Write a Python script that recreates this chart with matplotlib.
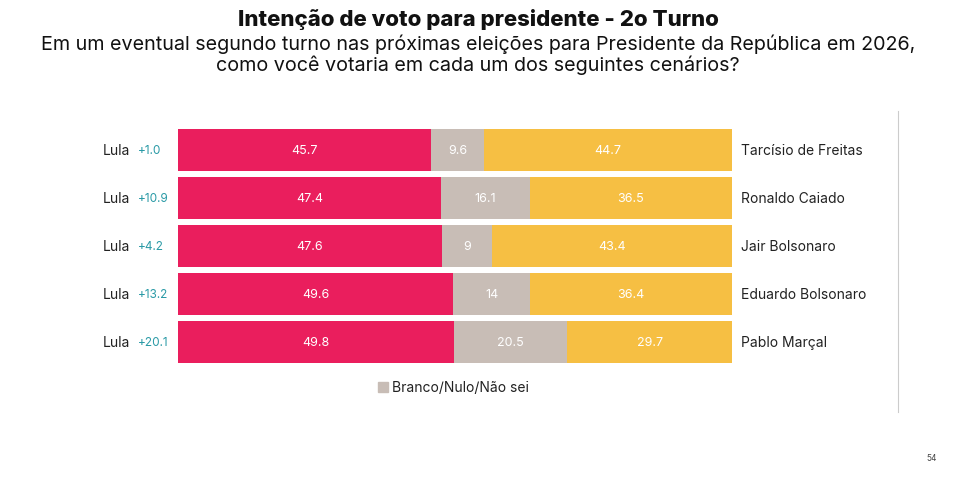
import numpy as np
from matplotlib import pyplot as plt

plt.rcParams['font.family'] = ['Inter', 'DejaVu Sans']

opponents = ["Tarcísio de Freitas", "Ronaldo Caiado", "Jair Bolsonaro",
             "Eduardo Bolsonaro", "Pablo Marçal"]
lula = [45.7, 47.4, 47.6, 49.6, 49.8]
blank = [9.6, 16.1, 9, 14, 20.5]
other = [44.7, 36.5, 43.4, 36.4, 29.7]
diffs = ["+1.0", "+10.9", "+4.2", "+13.2", "+20.1"]

RED = "#EA1E5D"
GREY = "#C8BDB6"
YELLOW = "#F6BF43"
TEAL = "#2A9AA6"
W, H = 957, 481


def fmt(v):
    return f"{v:g}"


fig = plt.figure(figsize=(W / 100, H / 100), dpi=100)
ax = fig.add_axes([178 / W, 1 - 367 / H, 554 / W, 240 / H])

y = np.arange(len(opponents))
lula = np.array(lula)
blank = np.array(blank)
other = np.array(other)
totals = lula + blank + other

ax.barh(y, lula, height=0.89, color=RED)
ax.barh(y, blank, left=lula, height=0.89, color=GREY)
ax.barh(y, other, left=lula + blank, height=0.89, color=YELLOW)

for i in y:
    ax.text(lula[i] / 2, i, fmt(lula[i]), ha="center", va="center", color="white", fontsize=9)
    ax.text(lula[i] + blank[i] / 2, i, fmt(blank[i]), ha="center", va="center", color="white", fontsize=9)
    ax.text(lula[i] + blank[i] + other[i] / 2, i, fmt(other[i]), ha="center", va="center", color="white", fontsize=9)
    ax.text(-8.7, i, "Lula", ha="right", va="center", color="#222222", fontsize=10)
    ax.text(-7.3, i, diffs[i], ha="left", va="center", color=TEAL, fontsize=8.5)
    ax.text(totals[i] + 1.6, i, opponents[i], ha="left", va="center", color="#222222", fontsize=10)

ax.set_xlim(0, 100)
ax.set_ylim(len(opponents) - 0.5, -0.5)
ax.axis("off")

# legend
fig.patches.append(plt.Rectangle((378 / W, 1 - 393 / H), 10 / W, 10 / H,
                                 transform=fig.transFigure, color=GREY))
fig.text(392 / W, 1 - 388 / H, "Branco/Nulo/Não sei", ha="left", va="center",
         fontsize=10, color="#222222")

# right separator
fig.add_artist(plt.Line2D([898 / W, 898 / W], [1 - 112 / H, 1 - 413 / H],
                          color="#CCCCCC", lw=0.8))

fig.text(478 / W, 1 - 19 / H, "Intenção de voto para presidente - 2o Turno",
         ha="center", va="center", fontsize=16, fontweight="heavy", color="#111111")
fig.text(478 / W, 1 - 44 / H,
         "Em um eventual segundo turno nas próximas eleições para Presidente da República em 2026,",
         ha="center", va="center", fontsize=14.2, color="#111111")
fig.text(478 / W, 1 - 65 / H,
         "como você votaria em cada um dos seguintes cenários?",
         ha="center", va="center", fontsize=14.2, color="#111111")
fig.text(932 / W, 1 - 459 / H, "54", ha="center", va="center", fontsize=6, color="#444444")

fig.savefig("out.png", dpi=100)
